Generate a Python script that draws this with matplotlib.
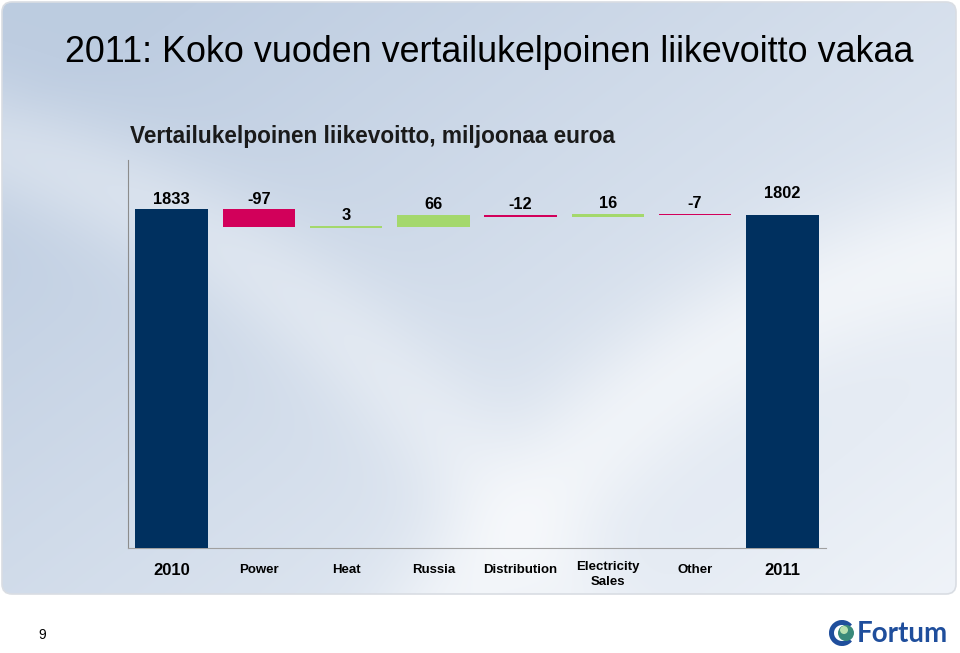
import numpy as np
import matplotlib
matplotlib.use("Agg")
import matplotlib.pyplot as plt
from matplotlib.patches import FancyBboxPatch, Circle, Wedge

plt.rcParams['font.family'] = ['Liberation Sans', 'DejaVu Sans']

categories = ["2010", "Power", "Heat", "Russia", "Distribution", "Electricity\nSales", "Other", "2011"]
values = [1833, -97, 3, 66, -12, 16, -7, 1802]
is_total = [True, False, False, False, False, False, False, True]
value_labels = ["1833", "-97", "3", "66", "-12", "16", "-7", "1802"]

title = "2011: Koko vuoden vertailukelpoinen liikevoitto vakaa"
subtitle = "Vertailukelpoinen liikevoitto, miljoonaa euroa"

NAVY = "#00305f"
PINK = "#d2005a"
GREEN = "#a4d86c"

W, H = 960, 653
fig = plt.figure(figsize=(W / 100, H / 100), dpi=100)
fig.patch.set_facecolor("white")

# background panel with gradient
bg = fig.add_axes([0, 0, 1, 1])
bg.set_xlim(0, W)
bg.set_ylim(H, 0)
bg.axis("off")
yy, xx = np.mgrid[0:H, 0:W]
t = np.clip(0.6 * (1 - xx / W) + 0.5 * (1 - yy / 600), 0, 1)
c0 = np.array([0.94, 0.955, 0.975])
c1 = np.array([0.74, 0.80, 0.88])
img = c0[None, None, :] * (1 - t[..., None]) + c1[None, None, :] * t[..., None]
# soft white swooshes
d = np.abs(np.hypot(xx - 1150, yy - 1050) - 820)
img = img + (1 - img) * 0.55 * np.exp(-(d / 70) ** 2)[..., None]
d2 = np.abs(np.hypot(xx + 300, yy - 1100) - 1000)
img = img + (1 - img) * 0.35 * np.exp(-(d2 / 60) ** 2)[..., None]
im = bg.imshow(img, extent=(0, W, H, 0), zorder=0, interpolation="bilinear")
panel = FancyBboxPatch((2, 2), W - 6, 592, boxstyle="round,pad=0,rounding_size=10",
                       transform=bg.transData, facecolor="none", edgecolor="#d9dde3", lw=1.2, zorder=2)
bg.add_patch(panel)
im.set_clip_path(panel)

bg.text(65, 53, title, fontsize=25.8, color="black", va="center", ha="left")
bg.text(130, 137, subtitle, fontsize=16.3, fontweight="bold", color="#1a1a1a", va="center", ha="left")
bg.text(42, 635, "9", fontsize=10, va="center", ha="center", color="black")

# Fortum logo
bg.add_patch(Wedge((842, 633), 13, 40, 320, width=5, facecolor="#1f4e9c", edgecolor="none", zorder=3))
bg.add_patch(Circle((846, 633), 8, facecolor="#3a8a7a", edgecolor="none", zorder=3))
bg.add_patch(Circle((844, 630), 4, facecolor="#b8e0b0", edgecolor="none", zorder=4))
bg.text(857, 634, "Fortum", fontsize=20, fontweight="bold", color="#1f4e9c", va="center", ha="left",
        family=["Lato", "DejaVu Sans"])

# chart
ax = fig.add_axes([128 / W, 1 - 548 / H, 698 / W, 388 / H])
ax.patch.set_alpha(0)
ax.set_xlim(-0.5, len(categories) - 0.5)
ax.set_ylim(0, 2100)

running = 0
for i, (v, tot) in enumerate(zip(values, is_total)):
    if tot:
        bottom, height, color = 0, v, NAVY
        running = v
    else:
        if v >= 0:
            bottom, height, color = running, v, GREEN
        else:
            bottom, height, color = running + v, -v, PINK
        running += v
    h_draw = max(height, 8)
    if not tot and height < 8:
        bottom = bottom - (8 - height) / 2
    ax.bar(i, h_draw, bottom=bottom, width=0.83, color=color, edgecolor="none", zorder=3)
    off = 10 if i == len(values) - 1 else 2
    ax.annotate(value_labels[i], (i, bottom + h_draw), xytext=(0, off), textcoords="offset points",
                ha="center", va="bottom", fontsize=11.8, fontweight="bold", color="black")

for i, cat in enumerate(categories):
    fs = 12 if is_total[i] else 9.5
    ax.annotate(cat, (i, 0), xytext=(0, -16 if "\n" not in cat else -19), textcoords="offset points",
                ha="center", va="center", fontsize=fs, fontweight="bold", color="black", linespacing=1.25,
                annotation_clip=False)

for s in ["top", "right"]:
    ax.spines[s].set_visible(False)
ax.spines["left"].set_color("#8c8c8c")
ax.spines["bottom"].set_color("#a0a0a0")
ax.spines["left"].set_linewidth(0.8)
ax.spines["bottom"].set_linewidth(0.8)
ax.set_xticks([])
ax.set_yticks([])

fig.savefig("out.png", dpi=100)
